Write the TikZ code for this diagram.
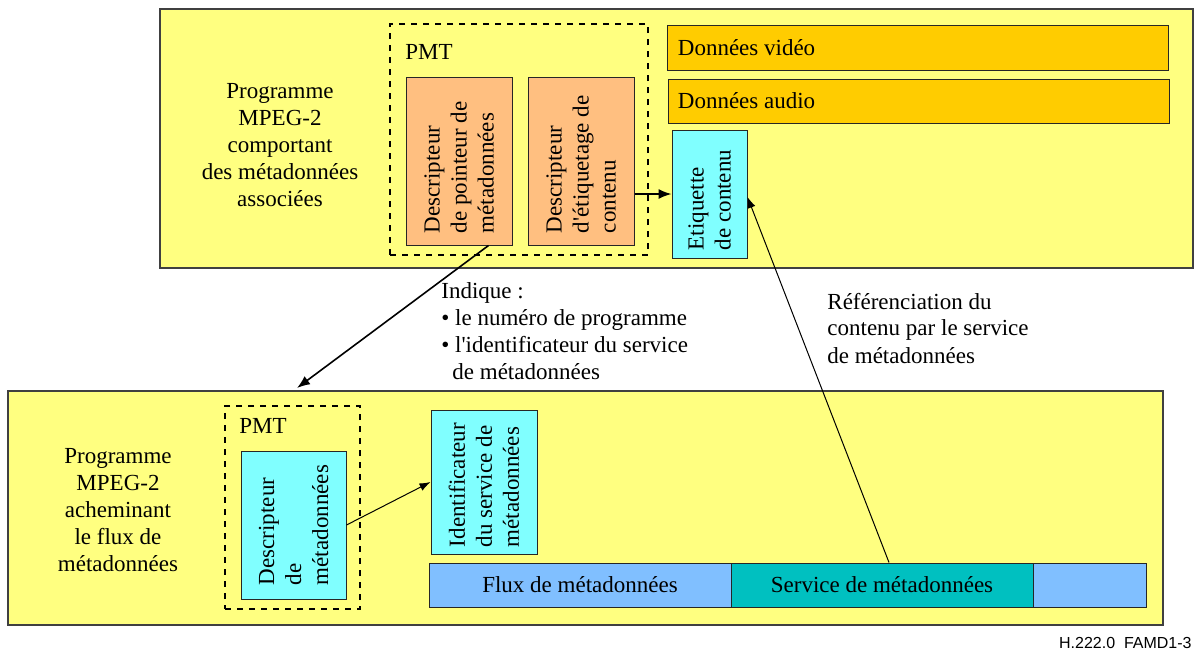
\documentclass[tikz,border=0pt]{standalone}
\usepackage{fontspec}
\setmainfont{Liberation Serif}
\newfontfamily\footfont{Liberation Sans}
\usetikzlibrary{arrows.meta,calc}

\definecolor{progyellow}{HTML}{FFFF80}
\definecolor{dataorange}{HTML}{FFCC00}
\definecolor{descorange}{HTML}{FFBF80}
\definecolor{tagcyan}{HTML}{80FFFF}
\definecolor{fluxblue}{HTML}{80BFFF}
\definecolor{servteal}{HTML}{00C0C0}

\begin{document}
\begin{tikzpicture}[x=0.5pt, y=-0.5pt,
    every node/.style={font=\fontsize{11.5}{13.5}\selectfont},
    box/.style={draw=black!85, line width=0.5pt, inner sep=0pt},
    prog/.style={box, draw=black!75, line width=0.8pt, fill=progyellow},
    pmt/.style={draw, dashed, line width=0.8pt, inner sep=0pt},
    vtext/.style={rotate=90, anchor=west, align=left, inner sep=0pt},
    arr/.style={-{Latex[length=6.5pt,width=5pt]}, line width=0.8pt},
    thinarr/.style={-{Latex[length=5.5pt,width=4pt]}, line width=0.5pt}]
\fill[white] (0,0) rectangle (1197,650);
\useasboundingbox (0,0) rectangle (1197,650);

% upper programme
\node[prog, minimum width=516.5pt, minimum height=129.5pt] (progA) at (676.5,138.5) {};
\node[align=center] (progAtxt) at (280,145)
    {Programme\\MPEG-2\\comportant\\des métadonnées\\associées};
\node[pmt, minimum width=129pt, minimum height=115.5pt] (pmtA) at (519,139.5) {};
\node[anchor=base west, inner sep=0pt] (pmtAtxt) at (405,59) {PMT};
\node[box, fill=descorange, minimum width=53pt, minimum height=84pt] (ptr) at (459,161) {};
\node[box, fill=descorange, minimum width=53pt, minimum height=84pt] (tag) at (581,161) {};
\node[vtext] (ptrtxt) at ($(ptr.south)+(0,-12)$) {Descripteur\\de pointeur de\\métadonnées};
\node[vtext] (tagtxt) at ($(tag.south)+(0,-12)$) {Descripteur\\d\textquotesingle étiquetage de\\contenu};
\node[box, fill=dataorange, minimum width=250.5pt, minimum height=22.5pt] (video) at (917.5,47.5) {};
\node[box, fill=dataorange, minimum width=250.5pt, minimum height=22pt] (audio) at (918.5,101) {};
\node[anchor=west, inner sep=0pt] (videotxt) at ($(video.west)+(11,0)$) {Données vidéo};
\node[anchor=west, inner sep=0pt] (audiotxt) at ($(audio.west)+(10,0)$) {Données audio};
\node[box, fill=tagcyan, minimum width=37.5pt, minimum height=64pt] (etiq) at (709.5,194) {};
\node[vtext] (etiqtxt) at ($(etiq.south)+(0,-8)$) {Etiquette\\de contenu};

% lower programme
\node[prog, minimum width=577.5pt, minimum height=117pt] (progB) at (585.5,508) {};
\node[align=center] (progBtxt) at (118,510)
    {Programme\\MPEG-2\\acheminant\\le flux de\\métadonnées};
\node[pmt, minimum width=67.5pt, minimum height=101.5pt] (pmtB) at (292.5,507.5) {};
\node[anchor=base west, inner sep=0pt] (pmtBtxt) at (239,433) {PMT};
\node[box, fill=tagcyan, minimum width=52.5pt, minimum height=74pt] (desc) at (293.5,525) {};
\node[vtext] (desctxt) at ($(desc.south)+(0,-14)$) {Descripteur\\de\\métadonnées};
\node[box, fill=tagcyan, minimum width=53pt, minimum height=72pt] (ident) at (484,482) {};
\node[vtext] (identtxt) at ($(ident.south)+(0,-7)$) {Identificateur\\du service de\\métadonnées};
\node[box, fill=fluxblue, minimum width=151pt, minimum height=22pt] (flux) at (580,585) {Flux de métadonnées};
\node[box, fill=servteal, minimum width=151pt, minimum height=22pt] (serv) at (882,585) {Service de métadonnées};
\node[box, fill=fluxblue, minimum width=56.5pt, minimum height=22pt] (rest) at (1089.5,585) {};

% comments
\node[anchor=west, align=left, inner sep=0pt] (indtxt) at (441,331)
    {Indique :\\\textbullet\ le numéro de programme\\\textbullet\ l\textquotesingle identificateur du service\\\hspace*{5.5pt}de métadonnées};
\node[anchor=west, align=left, inner sep=0pt] (reftxt) at (827,328)
    {Référenciation du\\contenu par le service\\de métadonnées};

% connectors
\coordinate (tipA) at (297,388);
\draw[arr] (tag.east |- etiq.west) -- (etiq.west);
\draw[arr] ($(ptr.south east)+(-24,0)$) -- (tipA);
\draw[thinarr] (desc.east) -- (ident.west);
\draw[thinarr] ($(serv.north)+(7,0)$) -- ($(etiq.east)+(0,3)$);

\node[anchor=base east, inner sep=0pt, font=\footfont\fontsize{8}{9}\selectfont] (ref) at (1192,648) {H.222.0~~FAMD1-3};
\end{tikzpicture}
\end{document}
